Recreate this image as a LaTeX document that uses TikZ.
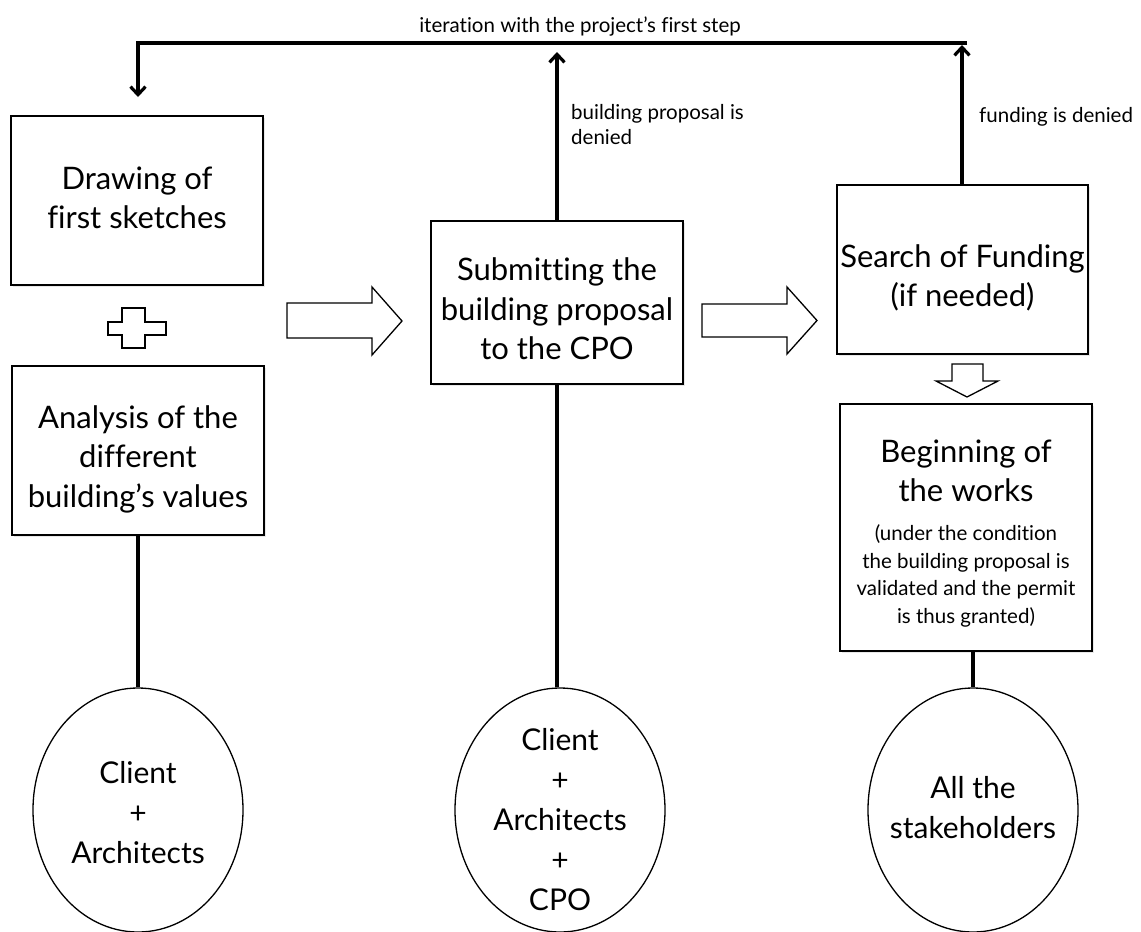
\documentclass[tikz,border=0pt]{standalone}
\usepackage{fontspec}
\setmainfont{Lato}[Ligatures=NoCommon]
\usetikzlibrary{arrows.meta,shapes.geometric,shadows}
\begin{document}
\begin{tikzpicture}[x=1pt,y=-1pt,
  box/.style={draw, line width=1.3pt, fill=white, inner sep=0pt,
    drop shadow={shadow xshift=1.5pt, shadow yshift=-2pt, opacity=0.18}},
  oval/.style={draw, ellipse, line width=1.3pt, fill=white, inner sep=0pt,
    minimum width=210pt, minimum height=244pt},
  big/.style={font=\fontsize{31}{39.5}\selectfont, align=center, inner sep=0pt},
  ovtext/.style={font=\fontsize{30}{40}\selectfont, align=center, inner sep=0pt},
  cond/.style={font=\fontsize{20.5}{27.5}\selectfont, align=center, inner sep=0pt},
  small/.style={font=\fontsize{20.5}{25}\selectfont, align=left, inner sep=0pt},
  conn/.style={line width=3.2pt, line join=miter},
  tip/.style={-{Straight Barb[length=8pt,width=15pt]}},
  blockarrow/.style={draw, line width=1.3pt, fill=white, line join=miter}
]
\useasboundingbox (0,0) rectangle (1141,932);

% boxes
\node[box, minimum width=252pt, minimum height=169pt] (draw) at (137,200.5) {};
\node[big] (drawt) at (137,198) {Drawing of\\first sketches};

\node[box, minimum width=252pt, minimum height=169pt] (anal) at (138,450.5) {};
\node[big] (analt) at (138,459) {Analysis of the\\different\\building’s values};

\node[box, minimum width=252pt, minimum height=163pt] (sub) at (557,302.5) {};
\node[big] (subt) at (557,309) {Submitting the\\building proposal\\to the CPO};

\node[box, minimum width=251pt, minimum height=169pt] (srch) at (962.5,269.5) {};
\node[big] (srcht) at (962.5,278) {Search of Funding\\(if needed)};

\node[box, minimum width=252pt, minimum height=247pt] (beg) at (966,527.5) {};
\node[big] (begt) at (966,471) {Beginning of\\the works};
\node[cond] (begc) at (966,576) {(under the condition\\the building proposal is\\validated and the permit\\is thus granted)};

% ellipses
\node[oval] (e1) at (138,810) {};
\node[ovtext] (e1t) at (138,813) {Client\\+\\Architects};
\node[oval] (e2) at (560,810) {};
\node[ovtext] (e2t) at (560,820) {Client\\+\\Architects\\+\\CPO};
\node[oval] (e3) at (973,810) {};
\node[ovtext] (e3t) at (973,807.5) {All the\\stakeholders};

% plus sign
\draw[blockarrow] (122,308) -- (145,308) -- (145,322) -- (166,322) -- (166,335)
  -- (145,335) -- (145,348) -- (122,348) -- (122,335) -- (108,335) -- (108,322)
  -- (122,322) -- cycle;

% block arrows
\draw[blockarrow] (287,303) -- (372,303) -- (372,287) -- (402,321) -- (372,355)
  -- (372,338) -- (287,338) -- cycle;
\draw[blockarrow] (702,304) -- (787,304) -- (787,287) -- (817,320.5) -- (787,354)
  -- (787,337) -- (702,337) -- cycle;
\draw[blockarrow] (952,364) -- (983,364) -- (983,381) -- (998,381) -- (967,397)
  -- (936,381) -- (952,381) -- cycle;

% connectors to participants
\draw[conn] (anal.south) -- (e1.north);
\draw[conn] (sub.south) -- (sub.south |- e2.north);
\draw[conn] (beg.south -| e3.north) -- (e3.north);

% feedback loop
\coordinate (tl) at (138,43);
\coordinate (tr) at (967,43);
\coordinate (arrL) at (138,97);
\coordinate (subTip) at (557,52);
\coordinate (srchTip) at (962,45);
\draw[conn, tip] (tr) -- (tl) -- (arrL);
\draw[conn, tip] (sub.north) -- (subTip);
\draw[conn, tip] (srch.north -| srchTip) -- (srchTip);

% labels
\node[small] (lblTop) at (580,27) {iteration with the project’s first step};
\node[small, anchor=west] (lblSub) at (571,124.5) {building proposal is\\denied};
\node[small, anchor=west] (lblFund) at (979,117) {funding is denied};
\end{tikzpicture}
\end{document}
